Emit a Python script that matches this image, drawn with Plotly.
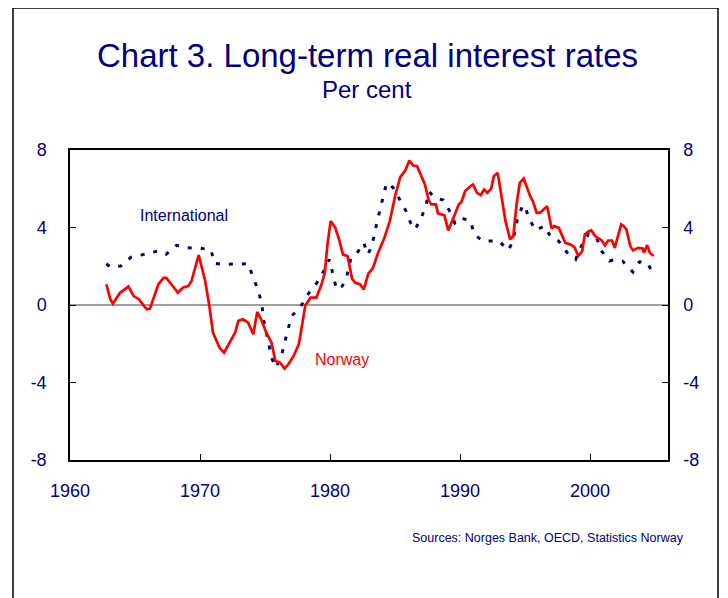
import plotly.graph_objects as go

# Norway, long-term real interest rate (per cent)
nor_year = [1962.8, 1963.1, 1963.3, 1963.85, 1964.5, 1964.9, 1965.3, 1965.9, 1966.15, 1966.8,
            1967.2, 1967.4, 1967.8, 1968.3, 1968.7, 1969.1, 1969.35, 1969.9, 1970.4, 1970.7,
            1971.0, 1971.5, 1971.85, 1972.3, 1972.7, 1972.95, 1973.3, 1973.7, 1974.1, 1974.4,
            1974.7, 1975.1, 1975.5, 1975.8, 1976.15, 1976.5, 1976.8, 1977.2, 1977.6, 1977.8,
            1978.1, 1978.5, 1978.95, 1979.35, 1979.6, 1979.8, 1980.05, 1980.4, 1980.7, 1981.0,
            1981.35, 1981.7, 1981.95, 1982.3, 1982.6, 1982.95, 1983.3, 1983.7, 1984.2, 1984.6,
            1985.0, 1985.4, 1985.8, 1986.1, 1986.4, 1986.7, 1986.9, 1987.3, 1987.6, 1987.8,
            1988.15, 1988.3, 1988.8, 1989.1, 1989.5, 1989.9, 1990.1, 1990.4, 1990.8, 1991.0,
            1991.3, 1991.6, 1991.85, 1992.1, 1992.4, 1992.6, 1992.9, 1993.1, 1993.5, 1993.85,
            1994.1, 1994.35, 1994.6, 1994.9, 1995.1, 1995.4, 1995.6, 1995.9, 1996.15, 1996.7,
            1997.05, 1997.25, 1997.6, 1997.8, 1998.1, 1998.5, 1998.8, 1999.1, 1999.4, 1999.6,
            1999.9, 2000.1, 2000.4, 2000.6, 2000.9, 2001.15, 2001.4, 2001.7, 2001.9, 2002.4,
            2002.6, 2002.8, 2003.1, 2003.3, 2003.7, 2004.05, 2004.15, 2004.4, 2004.6, 2004.9]
nor_rate = [1.07, 0.3, 0.07, 0.63, 0.95, 0.46, 0.3, -0.22, -0.19, 1.07,
            1.4, 1.4, 1.07, 0.63, 0.9, 0.98, 1.24, 2.58, 1.24, 0.03,
            -1.43, -2.2, -2.46, -1.94, -1.43, -0.82, -0.74, -0.91, -1.51, -0.36,
            -0.74, -1.43, -1.94, -2.89, -2.97, -3.28, -3.06, -2.63, -2.03, -1.25,
            -0.02, 0.38, 0.38, 1.07, 1.66, 3.1, 4.33, 4.0, 3.39, 2.6,
            2.53, 1.35, 1.15, 1.07, 0.81, 1.62, 1.9, 2.7, 3.5, 4.33,
            5.6, 6.6, 6.95, 7.46, 7.2, 7.16, 6.82, 6.22, 5.38, 5.19,
            5.19, 4.73, 4.63, 3.85, 4.5, 5.19, 5.31, 5.88, 6.13, 6.22,
            5.79, 5.67, 5.96, 5.79, 6.01, 6.65, 6.82, 5.96, 4.33, 3.39,
            3.56, 5.19, 6.3, 6.53, 6.13, 5.62, 5.36, 4.76, 4.76, 5.1,
            3.95, 4.07, 3.98, 3.64, 3.21, 3.13, 2.99, 2.53, 2.78, 3.64,
            3.81, 3.85, 3.56, 3.47, 3.33, 3.08, 3.33, 3.33, 2.95, 4.16,
            4.07, 3.9, 3.04, 2.82, 2.95, 2.92, 2.7, 3.09, 2.7, 2.53]

# International, long-term real interest rate (per cent)
int_year = [1962.8, 1963.1, 1963.9, 1964.7, 1965.9, 1966.8, 1967.4, 1968.2, 1969.0, 1970.0,
            1970.85, 1971.1, 1971.8, 1972.8, 1973.7, 1974.1, 1974.5, 1974.75, 1974.95, 1975.25,
            1975.5, 1975.85, 1976.3, 1976.7, 1977.05, 1977.7, 1978.2, 1979.0, 1979.6, 1979.95,
            1980.25, 1980.5, 1980.95, 1981.3, 1981.6, 1982.05, 1982.6, 1982.9, 1983.1, 1983.4,
            1983.6, 1983.85, 1984.1, 1984.35, 1984.85, 1985.3, 1985.85, 1986.2, 1986.55, 1987.05,
            1987.4, 1987.6, 1988.1, 1988.7, 1989.2, 1989.6, 1990.0, 1990.8, 1991.1, 1991.75,
            1992.4, 1993.0, 1993.7, 1994.0, 1994.25, 1994.45, 1994.85, 1995.0, 1995.3, 1995.8,
            1996.5, 1997.0, 1997.6, 1998.25, 1998.9, 1999.4, 1999.9, 2000.5, 2000.9, 2001.5,
            2002.0, 2002.5, 2003.3, 2003.8, 2004.4, 2004.9]
int_rate = [2.13, 1.96, 2.01, 2.47, 2.64, 2.8, 2.62, 3.08, 2.95, 2.93,
            2.85, 2.15, 2.1, 2.13, 2.13, 1.4, 0.72, 0.03, -1.0, -1.86,
            -2.72, -3.23, -2.54, -1.43, -0.57, -0.14, 0.46, 1.15, 1.84, 2.36,
            1.45, 0.81, 0.98, 1.5, 2.4, 2.65, 3.21, 2.61, 2.87, 3.56,
            4.24, 4.93, 5.62, 6.3, 6.06, 5.53, 4.85, 4.24, 3.9, 4.55,
            5.19, 5.85, 5.53, 5.42, 4.85, 4.24, 4.5, 4.35, 3.64, 3.3,
            3.32, 3.3, 2.82, 3.18, 3.87, 4.56, 5.16, 5.1, 4.48, 3.86,
            4.07, 3.5, 3.3, 2.7, 2.36, 3.13, 3.68, 3.47, 2.78, 2.27,
            2.36, 2.27, 1.7, 2.23, 2.18, 1.58]

x_ticks = [1960, 1970, 1980, 1990, 2000]
y_ticks = [-8, -4, 0, 4, 8]
y_labels = ["-8", "-4", "0", "4", "8"]

navy = "#000080"
font = "Liberation Sans, Arial, sans-serif"

fig = go.Figure()

fig.add_trace(go.Scatter(x=int_year, y=int_rate, mode="lines",
                         line=dict(color=navy, width=3, dash="4px,9px")))
fig.add_trace(go.Scatter(x=nor_year, y=nor_rate, mode="lines",
                         line=dict(color="#ff0000", width=2.7)))
# invisible trace so the right-hand axis is drawn
fig.add_trace(go.Scatter(x=[1960], y=[0], yaxis="y2", mode="markers",
                         marker=dict(opacity=0), hoverinfo="skip"))

axis_common = dict(
    showgrid=False, zeroline=False, showline=True, linecolor="black", linewidth=1.5,
    ticks="inside", ticklen=6, tickcolor="black",
    tickfont=dict(family=font, size=18, color=navy),
)

fig.update_layout(
    width=728, height=598,
    margin=dict(l=62, r=68, t=142, b=146),
    paper_bgcolor="white", plot_bgcolor="white",
    showlegend=False,
    font=dict(family=font, color=navy),
    xaxis=dict(range=[1960, 2006], tickvals=x_ticks, mirror=True,
               ticklabelstandoff=14, **axis_common),
    yaxis=dict(range=[-8, 8], tickvals=y_ticks, ticktext=y_labels,
               ticklabelstandoff=18, **axis_common),
    yaxis2=dict(range=[-8, 8], tickvals=y_ticks, ticktext=y_labels, overlaying="y",
                side="right", ticklabelstandoff=10, **axis_common),
    shapes=[
        dict(type="line", xref="paper", yref="y", x0=0, x1=1, y0=0, y1=0,
             line=dict(color="#808080", width=1.5), layer="below"),
        dict(type="rect", xref="paper", yref="paper", x0=-0.0953, x1=1.0836,
             y0=-0.5, y1=1.458, line=dict(color="black", width=1.5)),
    ],
    annotations=[
        dict(text="Chart 3. Long-term real interest rates", xref="paper", yref="paper",
             x=0.497, y=1.306, yanchor="middle", showarrow=False,
             font=dict(size=33, color=navy)),
        dict(text="Per cent", xref="paper", yref="paper", x=0.497, y=1.194,
             yanchor="middle", showarrow=False, font=dict(size=24, color=navy)),
        dict(text="International", x=1968.8, y=4.6, showarrow=False,
             font=dict(size=16, color=navy)),
        dict(text="Norway", x=1980.9, y=-2.8, showarrow=False,
             font=dict(size=16, color="#ff0000")),
        dict(text="Sources: Norges Bank, OECD, Statistics Norway", xref="paper", yref="paper",
             x=1.03, y=-0.252, xanchor="right", yanchor="middle", showarrow=False,
             font=dict(size=12.5, color=navy)),
    ],
)

fig.write_html("out.html")
